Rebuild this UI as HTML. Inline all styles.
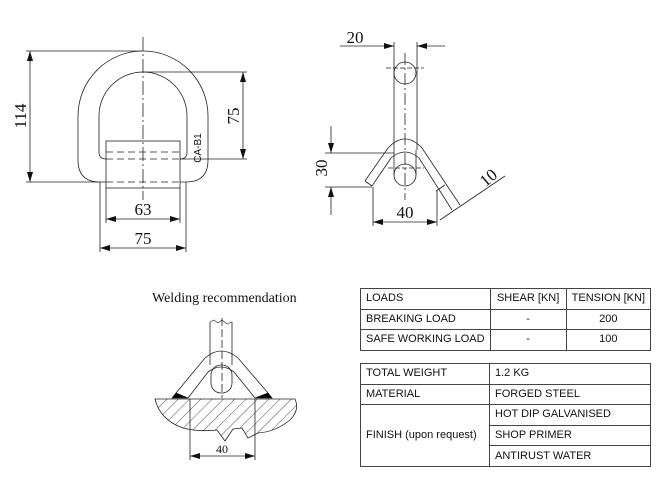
<!DOCTYPE html>
<html><head><meta charset="utf-8"><style>
body{margin:0;background:#fff;width:659px;height:478px;overflow:hidden;position:relative;font-family:"Liberation Sans",sans-serif}
table{position:absolute;border-collapse:collapse;font-size:11px;color:#111}
td{border:1px solid #444;padding:0 5px;height:19.6px;line-height:19px;white-space:nowrap}
.c{text-align:center}
</style></head><body>
<svg width="659" height="478" style="position:absolute;left:0;top:0" font-family="Liberation Serif, serif" fill="none" stroke="#222" stroke-width="0.8">
<defs>
<marker id="a" viewBox="0 0 10 6" refX="10" refY="3" markerWidth="10" markerHeight="6" orient="auto-start-reverse" markerUnits="userSpaceOnUse"><path d="M0,0L10,3L0,6z" fill="#111" stroke="none"/></marker>
<pattern id="h" width="8" height="8" patternUnits="userSpaceOnUse" patternTransform="rotate(45)"><line x1="0" y1="0" x2="0" y2="8" stroke="#222" stroke-width="0.8"/></pattern>
</defs>
<!-- Drawing 1 -->
<path d="M100,182 Q78,182 78,160 V116 A65,65 0 0 1 208,116 V160 Q208,182 186,182 Z"/>
<path d="M106,159 Q99,159 99,152 V116 A44,44 0 0 1 187,116 V152 Q187,159 180,159"/>
<rect x="106" y="141" width="74" height="47" fill="#fff"/>
<g stroke-dasharray="7,4"><line x1="106" y1="152" x2="180" y2="152"/><line x1="106" y1="159" x2="180" y2="159"/><line x1="106" y1="182" x2="180" y2="182"/></g>
<line x1="143" y1="37" x2="143" y2="200" stroke-dasharray="14,3,2,3"/>
<line x1="26" y1="51" x2="143" y2="51"/><line x1="26" y1="182" x2="100" y2="182"/>
<line x1="30" y1="51" x2="30" y2="182" marker-start="url(#a)" marker-end="url(#a)"/>
<line x1="143" y1="72" x2="247" y2="72"/><line x1="180" y1="159" x2="247" y2="159"/>
<line x1="243" y1="72" x2="243" y2="159" marker-start="url(#a)" marker-end="url(#a)"/>
<line x1="106" y1="188" x2="106" y2="223"/><line x1="180" y1="188" x2="180" y2="223"/>
<line x1="106" y1="219" x2="180" y2="219" marker-start="url(#a)" marker-end="url(#a)"/>
<line x1="100" y1="182" x2="100" y2="252"/><line x1="186" y1="182" x2="186" y2="252"/>
<line x1="100" y1="248" x2="186" y2="248" marker-start="url(#a)" marker-end="url(#a)"/>
<g fill="#111" stroke="none" font-size="17">
<text transform="translate(26,116) rotate(-90)" text-anchor="middle">114</text>
<text transform="translate(239,116) rotate(-90)" text-anchor="middle">75</text>
<text x="143" y="215" text-anchor="middle">63</text>
<text x="143" y="244" text-anchor="middle">75</text>
<text transform="translate(201,148) rotate(-90)" text-anchor="middle" font-family="Liberation Sans, sans-serif" font-size="10">CA-B1</text>
<text x="355" y="43" text-anchor="middle">20</text>
<text transform="translate(327,168) rotate(-90)" text-anchor="middle">30</text>
<text x="405" y="218" text-anchor="middle">40</text>
<text transform="translate(492,182) rotate(-40)" text-anchor="middle">10</text>
<text x="152" y="302" font-size="14">Welding recommendation</text>
<text x="222" y="453" text-anchor="middle" font-size="12">40</text>
</g>
<!-- Drawing 2 -->
<line x1="394" y1="42" x2="394" y2="150"/><line x1="417" y1="42" x2="417" y2="150"/>
<line x1="340" y1="46" x2="394" y2="46" marker-end="url(#a)"/><line x1="445" y1="46" x2="417" y2="46" marker-end="url(#a)"/>
<circle cx="405" cy="73" r="11"/>
<line x1="386" y1="68" x2="424" y2="68" stroke-dasharray="5,2"/><line x1="405" y1="53" x2="405" y2="200" stroke-dasharray="12,3,2,3"/>
<circle cx="405" cy="175" r="11"/>
<path d="M394,175 V150 M416,175 V150"/>
<line x1="388" y1="168" x2="424" y2="168" stroke-dasharray="5,2"/>
<path d="M365,181 L388,148 Q405,130 422,148 L460,205 M372,186 L391,158 Q405,146 419,158 L452,210 M365,181 L372,186 M445,185 L436,191"/>
<line x1="325" y1="153" x2="394" y2="153"/><line x1="325" y1="187" x2="372" y2="187"/>
<line x1="331" y1="126" x2="331" y2="153" marker-end="url(#a)"/><line x1="331" y1="215" x2="331" y2="187" marker-end="url(#a)"/>
<line x1="373" y1="187" x2="373" y2="226"/><line x1="437" y1="190" x2="437" y2="226"/>
<line x1="373" y1="222" x2="437" y2="222" marker-start="url(#a)" marker-end="url(#a)"/>
<line x1="440" y1="220" x2="505" y2="176"/>
<!-- Drawing 3 -->
<line x1="210" y1="322" x2="210" y2="365"/><line x1="232" y1="322" x2="232" y2="365"/>
<path d="M210,322 L214,320 L218,323 L222,320 M222,320 L227,324 L232,322" stroke-width="0.6"/>
<line x1="222" y1="318" x2="222" y2="398" stroke-dasharray="8,3"/>
<path d="M176,393 L205,358 Q221,344 238,358 L268,393 M188,398 L208,372 Q221,362 234,372 L255,398"/>
<rect x="211" y="365" width="21" height="28" rx="10"/>
<path d="M176,393 L188,398 L172,398 Z M268,393 L255,398 L272,398 Z" fill="#000"/>
<path d="M155,399 H295 Q300,410 290,420 Q275,432 258,433 L248,438 L242,428 L233,429 L225,441 L217,430 Q198,432 183,428 Q160,420 155,399 Z" fill="url(#h)"/>
<line x1="190" y1="399" x2="190" y2="460"/><line x1="255" y1="399" x2="255" y2="460"/>
<line x1="190" y1="456" x2="255" y2="456" marker-start="url(#a)" marker-end="url(#a)"/>
</svg>
<table style="left:360px;top:288px;width:291px">
<tr><td style="width:118px">LOADS</td><td class="c" style="width:69px">SHEAR [KN]</td><td class="c">TENSION [KN]</td></tr>
<tr><td>BREAKING LOAD</td><td class="c">-</td><td class="c">200</td></tr>
<tr><td>SAFE WORKING LOAD</td><td class="c">-</td><td class="c">100</td></tr>
</table>
<table style="left:360px;top:363px;width:291px">
<tr><td style="width:118px">TOTAL WEIGHT</td><td>1.2 KG</td></tr>
<tr><td>MATERIAL</td><td>FORGED STEEL</td></tr>
<tr><td rowspan="3">FINISH (upon request)</td><td>HOT DIP GALVANISED</td></tr>
<tr><td>SHOP PRIMER</td></tr>
<tr><td>ANTIRUST WATER</td></tr>
</table>
</body></html>
